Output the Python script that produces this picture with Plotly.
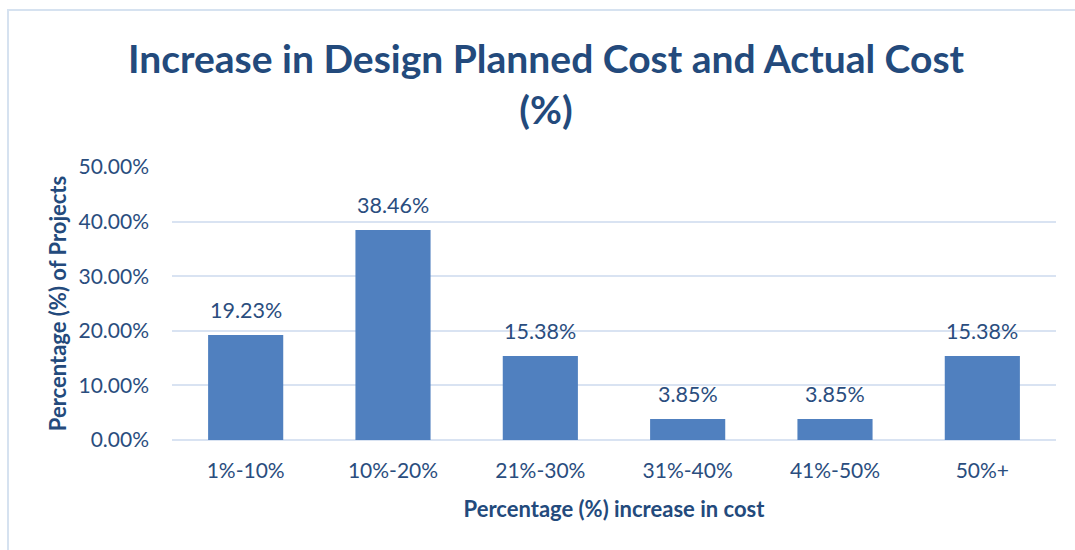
import plotly.graph_objects as go

# Cost-increase bands and share of projects in each band (fractions)
categories = ["1%-10%", "10%-20%", "21%-30%", "31%-40%", "41%-50%", "50%+"]
share = [0.1923, 0.3846, 0.1538, 0.0385, 0.0385, 0.1538]
y_ticks = [0.0, 0.1, 0.2, 0.3, 0.4, 0.5]

W, H = 1075, 550
L, R, T, B = 172, 19, 167, 110
plot_w = W - L - R
plot_h = H - T - B

TITLE_C = "#234a7c"
TEXT_C = "#2a4d7e"
GRID_C = "#d9e3f2"
FONT = "Lato"

fig = go.Figure()
fig.add_trace(go.Bar(
    x=categories,
    y=share,
    marker=dict(color="#5080bf", line=dict(width=0)),
    hoverinfo="skip",
))

# value labels sitting above each bar
for c, v in zip(categories, share):
    fig.add_annotation(
        x=c, y=v, xref="x", yref="y",
        text=f"{v*100:.2f}%", showarrow=False,
        yanchor="bottom", yshift=10,
        font=dict(family=FONT, size=21.5, color=TEXT_C),
    )

# chart frame
fig.add_shape(
    type="rect", xref="paper", yref="paper",
    x0=(8 - L) / plot_w, x1=(W + 20 - L) / plot_w,
    y0=(T + plot_h - (H + 20)) / plot_h, y1=(T + plot_h - 10) / plot_h,
    line=dict(color="#d6e2f0", width=2), fillcolor="rgba(0,0,0,0)", layer="below",
)

fig.update_layout(
    width=W, height=H,
    margin=dict(l=L, r=R, t=T, b=B),
    paper_bgcolor="white", plot_bgcolor="white",
    showlegend=False,
    bargap=0.49,
    title=dict(
        text="Increase in Design Planned Cost and Actual Cost<br>(%)",
        x=546 / W, xanchor="center", xref="container",
        y=1 - 73 / H, yanchor="top",
        font=dict(family=FONT, size=39, color=TITLE_C, weight="bold"),
    ),
    xaxis=dict(
        showgrid=False, showline=False, zeroline=False,
        ticks="", ticklabelstandoff=16,
        tickfont=dict(family=FONT, size=21, color=TEXT_C),
        title=dict(text="Percentage (%) increase in cost", standoff=20,
                   font=dict(family=FONT, size=22, color=TITLE_C, weight="bold")),
    ),
    yaxis=dict(
        range=[0, 0.5], tickvals=y_ticks, tickformat=".2%",
        showgrid=True, gridcolor=GRID_C, gridwidth=2,
        zeroline=True, zerolinecolor=GRID_C, zerolinewidth=2,
        showline=False, ticks="", ticklabelstandoff=22,
        tickfont=dict(family=FONT, size=21, color=TEXT_C),
        title=dict(text="Percentage (%) of Projects", standoff=5,
                   font=dict(family=FONT, size=22, color=TITLE_C, weight="bold")),
    ),
)

fig.write_html("out.html")
